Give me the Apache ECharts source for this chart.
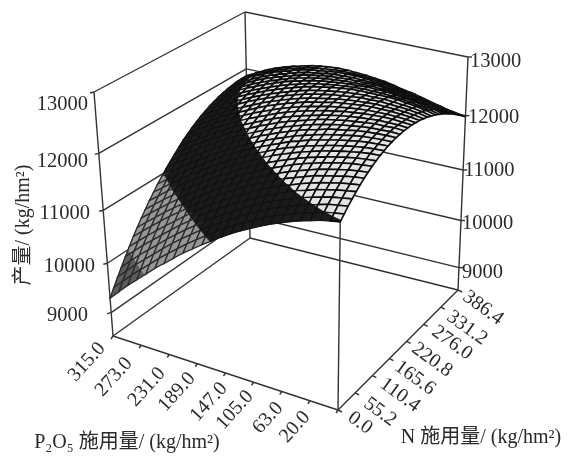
<!DOCTYPE html>
<html>
<head>
<meta charset="utf-8">
<style>html,body{margin:0;padding:0;background:#fff}#chart{width:568px;height:456px}</style>
</head>
<body>
<div id="chart"></div>
<script src="https://cdn.jsdelivr.net/npm/echarts@6/dist/echarts.min.js"></script>
<script>
const pLabels = ['315.0','273.0','231.0','189.0','147.0','105.0','63.0','20.0'];
const nLabels = ['0.0','55.2','110.4','165.6','220.8','276.0','331.2','386.4'];
const zTicks = [9000,10000,11000,12000,13000];
const zBands = [0,10000,11000,12000,99999];

// yield: one row per N step (0 -> 386.4), one column per P step (315 -> 20)
const n00 = [9300,9490,9680,9850,10020,10190,10340,10490,10640,10770,10900,11020,11140,11250,11350,11440,11530,11610,11680,11750,11810,11860,11910,11950,11980];
const n01 = [9455,9640,9825,9990,10155,10320,10470,10615,10755,10885,11010,11125,11240,11345,11445,11535,11620,11700,11765,11835,11890,11940,11990,12025,12055];
const n02 = [9610,9790,9970,10130,10290,10450,10600,10740,10870,11000,11120,11230,11340,11440,11540,11630,11710,11790,11850,11920,11970,12020,12070,12100,12130];
const n03 = [9755,9930,10105,10260,10415,10570,10715,10850,10980,11105,11220,11330,11435,11530,11625,11715,11790,11865,11930,11990,12045,12090,12135,12165,12195];
const n04 = [9900,10070,10240,10390,10540,10690,10830,10960,11090,11210,11320,11430,11530,11620,11710,11800,11870,11940,12010,12060,12120,12160,12200,12230,12260];
const n05 = [10040,10205,10365,10515,10660,10800,10935,11065,11190,11305,11415,11520,11615,11705,11790,11875,11945,12010,12075,12130,12180,12220,12260,12290,12315];
const n06 = [10180,10340,10490,10640,10780,10910,11040,11170,11290,11400,11510,11610,11700,11790,11870,11950,12020,12080,12140,12200,12240,12280,12320,12350,12370];
const n07 = [10305,10460,10605,10750,10885,11015,11140,11265,11380,11485,11590,11690,11775,11865,11940,12015,12085,12145,12200,12255,12295,12335,12370,12395,12415];
const n08 = [10430,10580,10720,10860,10990,11120,11240,11360,11470,11570,11670,11770,11850,11940,12010,12080,12150,12210,12260,12310,12350,12390,12420,12440,12460];
const n09 = [10545,10690,10830,10965,11090,11215,11330,11445,11555,11650,11745,11840,11920,12005,12075,12140,12205,12260,12310,12355,12395,12430,12460,12480,12495];
const n10 = [10660,10800,10940,11070,11190,11310,11420,11530,11640,11730,11820,11910,11990,12070,12140,12200,12260,12310,12360,12400,12440,12470,12500,12520,12530];
const n11 = [10765,10900,11035,11160,11280,11395,11505,11610,11715,11805,11890,11975,12050,12125,12195,12250,12310,12355,12400,12440,12475,12505,12530,12545,12555];
const n12 = [10870,11000,11130,11250,11370,11480,11590,11690,11790,11880,11960,12040,12110,12180,12250,12300,12360,12400,12440,12480,12510,12540,12560,12570,12580];
const n13 = [10965,11095,11220,11335,11450,11560,11665,11760,11855,11940,12020,12095,12165,12230,12295,12345,12395,12440,12475,12510,12540,12565,12580,12590,12595];
const n14 = [11060,11190,11310,11420,11530,11640,11740,11830,11920,12000,12080,12150,12220,12280,12340,12390,12430,12480,12510,12540,12570,12590,12600,12610,12610];
const n15 = [11145,11270,11390,11495,11605,11705,11805,11890,11975,12055,12130,12200,12265,12320,12375,12425,12465,12505,12535,12560,12585,12605,12610,12620,12615];
const n16 = [11230,11350,11470,11570,11680,11770,11870,11950,12030,12110,12180,12250,12310,12360,12410,12460,12500,12530,12560,12580,12600,12620,12620,12630,12620];
const n17 = [11310,11425,11535,11640,11740,11830,11925,12005,12080,12155,12225,12290,12345,12395,12440,12485,12520,12550,12575,12595,12610,12625,12625,12625,12615];
const n18 = [11390,11500,11600,11710,11800,11890,11980,12060,12130,12200,12270,12330,12380,12430,12470,12510,12540,12570,12590,12610,12620,12630,12630,12620,12610];
const n19 = [11455,11560,11660,11765,11855,11940,12025,12105,12175,12240,12305,12360,12410,12455,12490,12530,12555,12580,12600,12615,12620,12625,12620,12610,12595];
const n20 = [11520,11620,11720,11820,11910,11990,12070,12150,12220,12280,12340,12390,12440,12480,12510,12550,12570,12590,12610,12620,12620,12620,12610,12600,12580];
const n21 = [11575,11675,11770,11865,11955,12035,12110,12185,12250,12310,12365,12415,12460,12495,12525,12555,12575,12595,12605,12615,12610,12605,12595,12580,12555];
const n22 = [11630,11730,11820,11910,12000,12080,12150,12220,12280,12340,12390,12440,12480,12510,12540,12560,12580,12600,12600,12610,12600,12590,12580,12560,12530];
const n23 = [11675,11770,11865,11950,12035,12110,12180,12245,12305,12360,12410,12455,12490,12520,12545,12565,12580,12590,12590,12595,12585,12570,12555,12530,12495];
const n24 = [11720,11810,11910,11990,12070,12140,12210,12270,12330,12380,12430,12470,12500,12530,12550,12570,12580,12580,12580,12580,12570,12550,12530,12500,12460];
const n25 = [11755,11845,11940,12020,12095,12165,12230,12290,12345,12390,12435,12470,12495,12520,12535,12550,12560,12555,12555,12545,12530,12510,12480,12455,12415];
const n26 = [11790,11880,11970,12050,12120,12190,12250,12310,12360,12400,12440,12470,12490,12510,12520,12530,12540,12530,12530,12510,12490,12470,12430,12410,12370];
const n27 = [11815,11905,11990,12070,12140,12205,12260,12315,12365,12400,12435,12460,12475,12490,12495,12500,12505,12490,12480,12460,12440,12410,12375,12355,12315];
const n28 = [11840,11930,12010,12090,12160,12220,12270,12320,12370,12400,12430,12450,12460,12470,12470,12470,12470,12450,12430,12410,12390,12350,12320,12300,12260];
const n29 = [11855,11945,12025,12100,12170,12225,12275,12325,12365,12390,12415,12435,12440,12445,12440,12430,12425,12400,12380,12355,12330,12285,12255,12230,12195];
const n30 = [11870,11960,12040,12110,12180,12230,12280,12330,12360,12380,12400,12420,12420,12420,12410,12390,12380,12350,12330,12300,12270,12220,12190,12160,12130];
const n31 = [11875,11960,12040,12110,12175,12225,12270,12315,12345,12365,12380,12390,12385,12380,12365,12345,12325,12290,12265,12230,12195,12150,12115,12085,12055];
const n32 = [11880,11960,12040,12110,12170,12220,12260,12300,12330,12350,12360,12360,12350,12340,12320,12300,12270,12230,12200,12160,12120,12080,12040,12010,11980];
const yieldRows = [n00,n01,n02,n03,n04,n05,n06,n07,n08,n09,n10,n11,n12,n13,n14,n15,n16,n17,n18,n19,n20,n21,n22,n23,n24,n25,n26,n27,n28,n29,n30,n31,n32];

// view of the box on the page
const zFloor = 8500, zTop = 13000, zBend = 0.85;
const floorL = [113,336], floorF = [338,410], floorR = [458,290], floorK = [250,238];
const ceilL = [94,92], ceilF = [341,157], ceilR = [468,57], ceilK = [245,12];

const bandFill = ['#5c5c5c','#979797','#1b1b1b','#e4e4e4'];
const bandLine = ['#2a2a2a','#2a2a2a','#111111','#0a0a0a'];
const bandWidth = [1.3,1.3,1.1,1.6];
const serif = '"Liberation Serif","Noto Sans CJK SC"';

function bilerp(a, b, c, d, u, v, k) {
    // a = L, b = F, c = R, d = K
    return (1 - u) * (1 - v) * a[k] + u * (1 - v) * b[k] + u * v * c[k] + (1 - u) * v * d[k];
}
function project(u, v, z) {
    const t = (z - zFloor) / (zTop - zFloor);
    const s = zBend * t / (1 - (1 - zBend) * t);
    const out = [];
    for (let k = 0; k < 2; k++) {
        const lo = bilerp(floorL, floorF, floorR, floorK, u, v, k);
        const hi = bilerp(ceilL, ceilF, ceilR, ceilK, u, v, k);
        out.push(lo + (hi - lo) * s);
    }
    return out;
}

function seg(a, b) { return [a[0], a[1], b[0], b[1]]; }
function nudge(p, dx, dy) { return [p[0] + dx, p[1] + dy]; }

const cols = n00.length, rows = yieldRows.length;
const segments = [];
// floor and top edges
segments.push(seg(project(0,0,zFloor), project(1,0,zFloor)));
segments.push(seg(project(1,0,zFloor), project(1,1,zFloor)));
segments.push(seg(project(0,0,zFloor), project(0,1,zFloor)));
segments.push(seg(project(0,1,zFloor), project(1,1,zFloor)));
// verticals
segments.push(seg(project(0,0,zFloor), project(0,0,zTop)));
segments.push(seg(project(0,1,zFloor), project(0,1,zTop)));
segments.push(seg(project(1,1,zFloor), project(1,1,zTop)));
segments.push(seg(project(1,0,zFloor), project(1,0,n00[cols - 1])));
// wall gridlines and value ticks
zTicks.forEach(function (z) {
    segments.push(seg(project(0,0,z), project(0,1,z)));
    segments.push(seg(project(0,1,z), project(1,1,z)));
    segments.push(seg(project(0,0,z), nudge(project(0,0,z), -4, 1)));
    segments.push(seg(project(1,1,z), nudge(project(1,1,z), 4, 0)));
});
// floor ticks
for (let i = 0; i <= pLabels.length; i++) {
    const p = project(i / pLabels.length, 0, zFloor);
    segments.push(seg(p, nudge(p, -2, 3)));
}
for (let j = 0; j < nLabels.length; j++) {
    const p = project(1, j / (nLabels.length - 1), zFloor);
    segments.push(seg(p, nudge(p, 4, 2)));
}

// back cells first
const cells = [];
for (let j = 0; j < rows - 1; j++) {
    for (let i = 0; i < cols - 1; i++) cells.push([i, j]);
}
cells.sort(function (a, b) {
    return (b[1] / rows - b[0] / cols) - (a[1] / rows - a[0] / cols);
});

// keep the part of a cell between two contour levels
function clipAt(poly, level, keepAbove) {
    const out = [];
    for (let k = 0; k < poly.length; k++) {
        const a = poly[k], b = poly[(k + 1) % poly.length];
        const ina = keepAbove ? a[2] >= level : a[2] <= level;
        const inb = keepAbove ? b[2] >= level : b[2] <= level;
        if (ina) out.push(a);
        if (ina !== inb) {
            const f = (level - a[2]) / (b[2] - a[2]);
            out.push([a[0] + (b[0] - a[0]) * f, a[1] + (b[1] - a[1]) * f, level]);
        }
    }
    return out;
}

function renderCell(params, api) {
    const i = cells[params.dataIndex][0], j = cells[params.dataIndex][1];
    const quad = [[i,j],[i+1,j],[i+1,j+1],[i,j+1]].map(function (c) {
        return [c[0] / (cols - 1), c[1] / (rows - 1), yieldRows[c[1]][c[0]]];
    });
    const toPage = function (q) { return api.coord(project(q[0], q[1], q[2])); };
    const children = [];
    let mean = 0;
    quad.forEach(function (q) { mean += q[2] / 4; });
    for (let b = 0; b < bandFill.length; b++) {
        let part = clipAt(quad, zBands[b], true);
        if (part.length) part = clipAt(part, zBands[b + 1], false);
        if (part.length < 3) continue;
        children.push({
            type: 'polygon',
            shape: { points: part.map(toPage) },
            style: { fill: bandFill[b], stroke: bandFill[b], lineWidth: 0.6 }
        });
    }
    let band = 0;
    while (mean >= zBands[band + 1]) band++;
    children.push({
        type: 'polygon',
        shape: { points: quad.map(toPage) },
        style: { fill: 'none', stroke: bandLine[band], lineWidth: bandWidth[band] }
    });
    return { type: 'group', children: children };
}

function renderSeg(params, api) {
    const a = api.coord([api.value(0), api.value(1)]);
    const b = api.coord([api.value(2), api.value(3)]);
    return {
        type: 'line',
        shape: { x1: a[0], y1: a[1], x2: b[0], y2: b[1] },
        style: { stroke: '#333333', lineWidth: 1.4 }
    };
}

const texts = [];
function addText(text, pos, rot, size, align) {
    texts.push({ value: pos, text: text, rot: rot, size: size, align: align || 'center' });
}
const leftPos = [[88,316],[95,267],[90,214],[88,162],[88,105]];
const rightPos = [[462,273],[462,224],[464,171],[468,118],[470,62]];
const pPos = [[87,362],[114,377],[147,387],[177,392],[209,402],[235,410],[268,418],[295,427]];
const nPos = [[360,423],[380,412],[400,395],[415,378],[432,360],[452,343],[467,328],[483,308]];
zTicks.forEach(function (z, k) {
    addText(String(z), leftPos[k], 0, 20.5, 'right');
    addText(String(z), rightPos[k], 0, 20.5, 'left');
});
pLabels.forEach(function (s, k) { addText(s, pPos[k], 48, 20); });
nLabels.forEach(function (s, k) { addText(s, nPos[k], -36, 20); });
addText('产量/ (kg/hm²)', [24,225], 90, 20);
addText('P₂O₅ 施用量/ (kg/hm²)', [127,443], 0, 20);
addText('N 施用量/ (kg/hm²)', [481,438], 0, 20);

function renderText(params, api) {
    const item = texts[params.dataIndex];
    const p = api.coord(item.value);
    return {
        type: 'text',
        x: p[0], y: p[1],
        rotation: item.rot * Math.PI / 180,
        style: {
            text: item.text,
            fill: '#2a2a2a',
            font: item.size + 'px ' + serif,
            align: item.align,
            verticalAlign: 'middle'
        }
    };
}

const chart = echarts.init(document.getElementById('chart'));
chart.setOption({
    backgroundColor: '#fff',
    animation: false,
    tooltip: { show: false },
    grid: { left: 0, right: 0, top: 0, bottom: 0 },
    xAxis: { type: 'value', min: 0, max: 568, show: false },
    yAxis: { type: 'value', min: 0, max: 456, inverse: true, show: false },
    series: [
        { type: 'custom', silent: true, clip: false, renderItem: renderSeg, data: segments, z: 1 },
        { type: 'custom', silent: true, clip: false, progressive: 0, renderItem: renderCell, data: cells, z: 2 },
        { type: 'custom', silent: true, clip: false, renderItem: renderText, data: texts, z: 3 }
    ]
});
window.addEventListener('resize', function () { chart.resize(); });
</script>
</body>
</html>
